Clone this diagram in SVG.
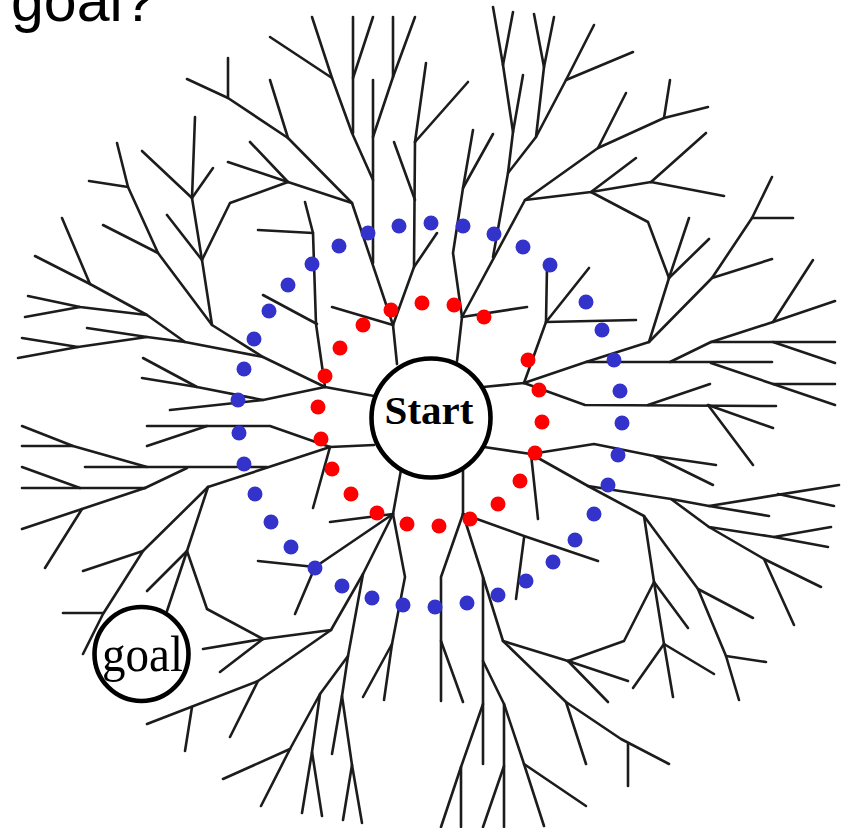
<svg xmlns="http://www.w3.org/2000/svg" width="842" height="828" viewBox="0 0 842 828">
<style>
.b{fill:none;stroke:#1c1c1c;stroke-width:2.6;stroke-linecap:round;stroke-linejoin:round}
.r{fill:#ff0000}
.u{fill:#3333cc}
.node{fill:#fff;stroke:#000;stroke-width:4.6}
</style>
<rect width="842" height="828" fill="#fff"/>
<text x="11" y="21" font-family="Liberation Sans, Arial, sans-serif" font-size="59" fill="#000">goal?</text>
<g id="tree">
<path class="b" d="M312,17 L332,78 L352,133 L373,180"/>
<path class="b" d="M270,37 L332,78"/>
<path class="b" d="M353,17 L353,133"/>
<path class="b" d="M373,17 L353,78"/>
<path class="b" d="M373,80 L373,263"/>
<path class="b" d="M393,17 L393,77"/>
<path class="b" d="M415,17 L393,77 L373,137"/>
<path class="b" d="M426,63 L415,142"/>
<path class="b" d="M468,82 L415,142"/>
<path class="b" d="M415,142 L414,267 L393,325"/>
<path class="b" d="M394,142 L415,200"/>
<path class="b" d="M437,233 L414,267"/>
<path class="b" d="M187,79 L228,98 L288,138 L352,203 L393,325"/>
<path class="b" d="M228,58 L228,98"/>
<path class="b" d="M270,80 L288,138"/>
<path class="b" d="M250,142 L288,182 L352,203"/>
<path class="b" d="M228,162 L288,182"/>
<path class="b" d="M288,182 L230,203 L202,260 L212,325"/>
<path class="b" d="M195,117 L192,198 L202,260"/>
<path class="b" d="M142,151 L192,198"/>
<path class="b" d="M213,168 L192,198"/>
<path class="b" d="M167,215 L202,260"/>
<path class="b" d="M117,143 L128,187 L158,253 L212,325 L263,357 L325,387"/>
<path class="b" d="M89,181 L128,187"/>
<path class="b" d="M103,225 L158,253"/>
<path class="b" d="M62,218 L90,284"/>
<path class="b" d="M35,256 L90,284 L147,315 L185,342 L263,357"/>
<path class="b" d="M28,296 L80,307 L147,315"/>
<path class="b" d="M25,317 L80,307"/>
<path class="b" d="M87,328 L147,337 L185,342"/>
<path class="b" d="M22,338 L78,347 L147,337"/>
<path class="b" d="M18,358 L78,347"/>
<path class="b" d="M305,202 L313,233 L316,324 L325,387"/>
<path class="b" d="M258,230 L313,233"/>
<path class="b" d="M263,295 L317,324"/>
<path class="b" d="M325,387 L374,396"/>
<path class="b" d="M143,358 L197,387 L263,400 L325,387"/>
<path class="b" d="M142,378 L197,387"/>
<path class="b" d="M170,410 L263,400"/>
<path class="b" d="M332,307 L393,325"/>
<path class="b" d="M393,325 L397,364"/>
<path class="b" d="M493,7 L503,65 L513,132 L508,173 L493,257"/>
<path class="b" d="M513,12 L503,65"/>
<path class="b" d="M523,75 L513,132"/>
<path class="b" d="M534,14 L544,67 L536,137 L508,173"/>
<path class="b" d="M554,17 L544,67"/>
<path class="b" d="M594,25 L566,80 L536,137"/>
<path class="b" d="M633,52 L566,80"/>
<path class="b" d="M473,130 L463,188 L453,253 L462,317"/>
<path class="b" d="M493,134 L463,188"/>
<path class="b" d="M462,317 L525,200 L591,192 L651,182 L724,196"/>
<path class="b" d="M525,200 L598,148 L664,118 L708,107"/>
<path class="b" d="M598,148 L626,93"/>
<path class="b" d="M664,118 L670,80"/>
<path class="b" d="M651,182 L706,133"/>
<path class="b" d="M591,192 L636,158"/>
<path class="b" d="M591,192 L648,222 L669,278 L649,342 L586,362 L524,383"/>
<path class="b" d="M669,278 L689,218"/>
<path class="b" d="M669,278 L709,239"/>
<path class="b" d="M649,342 L712,278 L752,218 L772,177"/>
<path class="b" d="M752,218 L793,218"/>
<path class="b" d="M712,278 L772,259"/>
<path class="b" d="M462,317 L527,307"/>
<path class="b" d="M462,317 L457,361"/>
<path class="b" d="M547,267 L546,322 L524,383"/>
<path class="b" d="M546,322 L589,268"/>
<path class="b" d="M546,322 L636,320"/>
<path class="b" d="M586,362 L772,362"/>
<path class="b" d="M670,362 L711,342 L835,342"/>
<path class="b" d="M711,342 L773,322 L835,301"/>
<path class="b" d="M773,322 L813,260"/>
<path class="b" d="M773,342 L835,363"/>
<path class="b" d="M711,363 L773,384 L835,384"/>
<path class="b" d="M773,384 L835,405"/>
<path class="b" d="M524,383 L483,387"/>
<path class="b" d="M524,383 L585,405 L776,406"/>
<path class="b" d="M648,405 L710,384"/>
<path class="b" d="M708,405 L773,428"/>
<path class="b" d="M708,405 L753,465"/>
<path class="b" d="M484,447 L531,454"/>
<path class="b" d="M531,454 L538,519"/>
<path class="b" d="M531,454 L594,444 L654,456 L716,465"/>
<path class="b" d="M654,456 L713,485"/>
<path class="b" d="M531,454 L588,486 L644,516 L654,582 L664,644 L673,697"/>
<path class="b" d="M588,486 L671,499 L709,506 L839,485"/>
<path class="b" d="M709,506 L769,516"/>
<path class="b" d="M778,494 L834,506"/>
<path class="b" d="M671,499 L709,527 L774,537 L831,527"/>
<path class="b" d="M774,537 L828,547"/>
<path class="b" d="M709,527 L764,559 L821,587"/>
<path class="b" d="M764,559 L794,625"/>
<path class="b" d="M644,516 L698,589 L753,618"/>
<path class="b" d="M698,589 L726,656 L739,700"/>
<path class="b" d="M726,656 L766,662"/>
<path class="b" d="M654,582 L688,628"/>
<path class="b" d="M654,582 L624,641 L568,661"/>
<path class="b" d="M664,644 L714,674"/>
<path class="b" d="M664,644 L633,688"/>
<path class="b" d="M463,470 L463,514"/>
<path class="b" d="M463,514 L524,536 L598,561"/>
<path class="b" d="M524,538 L516,599"/>
<path class="b" d="M463,514 L441,577 L441,701"/>
<path class="b" d="M441,641 L463,702"/>
<path class="b" d="M463,514 L483,577 L503,641 L568,661"/>
<path class="b" d="M483,577 L483,764"/>
<path class="b" d="M483,661 L504,704 L524,764 L544,826"/>
<path class="b" d="M524,764 L586,806"/>
<path class="b" d="M504,704 L504,827"/>
<path class="b" d="M504,766 L483,827"/>
<path class="b" d="M483,704 L461,767 L441,827"/>
<path class="b" d="M461,767 L461,827"/>
<path class="b" d="M503,641 L566,702 L621,739 L669,764"/>
<path class="b" d="M566,702 L586,764"/>
<path class="b" d="M628,744 L628,786"/>
<path class="b" d="M568,661 L628,681"/>
<path class="b" d="M568,661 L608,702"/>
<path class="b" d="M401,470 L393,514"/>
<path class="b" d="M393,514 L330,522"/>
<path class="b" d="M393,514 L315,567 L295,614"/>
<path class="b" d="M315,567 L258,561"/>
<path class="b" d="M393,514 L405,577 L392,644 L363,697"/>
<path class="b" d="M392,644 L384,700"/>
<path class="b" d="M208,487 L187,551 L207,609 L263,639 L331,630 L363,574 L393,514"/>
<path class="b" d="M187,551 L167,611"/>
<path class="b" d="M187,551 L147,591"/>
<path class="b" d="M263,639 L203,649"/>
<path class="b" d="M263,639 L220,672"/>
<path class="b" d="M331,630 L258,681 L147,724"/>
<path class="b" d="M258,681 L230,737"/>
<path class="b" d="M192,707 L185,751"/>
<path class="b" d="M363,574 L348,656 L320,694 L290,749 L261,806"/>
<path class="b" d="M290,749 L223,779"/>
<path class="b" d="M320,694 L312,752 L302,813"/>
<path class="b" d="M312,752 L322,816"/>
<path class="b" d="M348,656 L342,696 L332,754"/>
<path class="b" d="M342,696 L352,765 L343,820"/>
<path class="b" d="M352,765 L362,823"/>
<path class="b" d="M208,487 L143,551 L103,614 L83,654"/>
<path class="b" d="M143,551 L83,571"/>
<path class="b" d="M63,613 L103,613"/>
<path class="b" d="M208,487 L330,447"/>
<path class="b" d="M330,447 L374,445"/>
<path class="b" d="M330,447 L313,508"/>
<path class="b" d="M330,447 L270,426 L147,426"/>
<path class="b" d="M147,446 L207,426"/>
<path class="b" d="M85,467 L267,467"/>
<path class="b" d="M22,426 L73,446 L147,467"/>
<path class="b" d="M22,446 L73,446"/>
<path class="b" d="M22,467 L80,488"/>
<path class="b" d="M22,488 L145,488"/>
<path class="b" d="M145,488 L187,468"/>
<path class="b" d="M145,488 L82,509 L22,529"/>
<path class="b" d="M82,509 L45,568"/>
</g>
<g id="start">
<circle class="node" cx="431" cy="418" r="59.5"/>
<text x="429" y="424" text-anchor="middle" font-family="Liberation Serif, 'Times New Roman', serif" font-weight="bold" font-size="41" fill="#000">Start</text>
</g>
<g id="goal">
<circle class="node" cx="141.5" cy="654" r="47"/>
<text x="142.5" y="671" text-anchor="middle" font-family="Liberation Serif, 'Times New Roman', serif" font-size="50" textLength="81" lengthAdjust="spacingAndGlyphs" fill="#000">goal</text>
</g>
<g id="frontier-red">
<circle class="r" cx="391" cy="310" r="7.5"/>
<circle class="r" cx="422" cy="303" r="7.5"/>
<circle class="r" cx="454" cy="305" r="7.5"/>
<circle class="r" cx="484" cy="317" r="7.5"/>
<circle class="r" cx="363" cy="325" r="7.5"/>
<circle class="r" cx="340" cy="348" r="7.5"/>
<circle class="r" cx="325" cy="376" r="7.5"/>
<circle class="r" cx="318" cy="407" r="7.5"/>
<circle class="r" cx="321" cy="439" r="7.5"/>
<circle class="r" cx="332" cy="469" r="7.5"/>
<circle class="r" cx="351" cy="494" r="7.5"/>
<circle class="r" cx="377" cy="513" r="7.5"/>
<circle class="r" cx="407" cy="524" r="7.5"/>
<circle class="r" cx="439" cy="526" r="7.5"/>
<circle class="r" cx="470" cy="519" r="7.5"/>
<circle class="r" cx="498" cy="504" r="7.5"/>
<circle class="r" cx="520" cy="481" r="7.5"/>
<circle class="r" cx="535" cy="453" r="7.5"/>
<circle class="r" cx="542" cy="422" r="7.5"/>
<circle class="r" cx="539" cy="390" r="7.5"/>
<circle class="r" cx="528" cy="360" r="7.5"/>
</g>
<g id="frontier-blue">
<circle class="u" cx="431" cy="223" r="7.5"/>
<circle class="u" cx="463" cy="226" r="7.5"/>
<circle class="u" cx="494" cy="234" r="7.5"/>
<circle class="u" cx="523" cy="247" r="7.5"/>
<circle class="u" cx="550" cy="265" r="7.5"/>
<circle class="u" cx="586" cy="302" r="7.5"/>
<circle class="u" cx="602" cy="330" r="7.5"/>
<circle class="u" cx="614" cy="360" r="7.5"/>
<circle class="u" cx="620" cy="391" r="7.5"/>
<circle class="u" cx="622" cy="423" r="7.5"/>
<circle class="u" cx="618" cy="455" r="7.5"/>
<circle class="u" cx="608" cy="485" r="7.5"/>
<circle class="u" cx="594" cy="514" r="7.5"/>
<circle class="u" cx="575" cy="540" r="7.5"/>
<circle class="u" cx="553" cy="562" r="7.5"/>
<circle class="u" cx="526" cy="581" r="7.5"/>
<circle class="u" cx="498" cy="595" r="7.5"/>
<circle class="u" cx="467" cy="603" r="7.5"/>
<circle class="u" cx="435" cy="607" r="7.5"/>
<circle class="u" cx="403" cy="605" r="7.5"/>
<circle class="u" cx="372" cy="598" r="7.5"/>
<circle class="u" cx="342" cy="586" r="7.5"/>
<circle class="u" cx="315" cy="568" r="7.5"/>
<circle class="u" cx="291" cy="547" r="7.5"/>
<circle class="u" cx="271" cy="522" r="7.5"/>
<circle class="u" cx="255" cy="494" r="7.5"/>
<circle class="u" cx="244" cy="464" r="7.5"/>
<circle class="u" cx="239" cy="433" r="7.5"/>
<circle class="u" cx="238" cy="400" r="7.5"/>
<circle class="u" cx="244" cy="369" r="7.5"/>
<circle class="u" cx="254" cy="339" r="7.5"/>
<circle class="u" cx="269" cy="311" r="7.5"/>
<circle class="u" cx="288" cy="285" r="7.5"/>
<circle class="u" cx="312" cy="264" r="7.5"/>
<circle class="u" cx="339" cy="246" r="7.5"/>
<circle class="u" cx="368" cy="233" r="7.5"/>
<circle class="u" cx="399" cy="226" r="7.5"/>
</g>
</svg>
